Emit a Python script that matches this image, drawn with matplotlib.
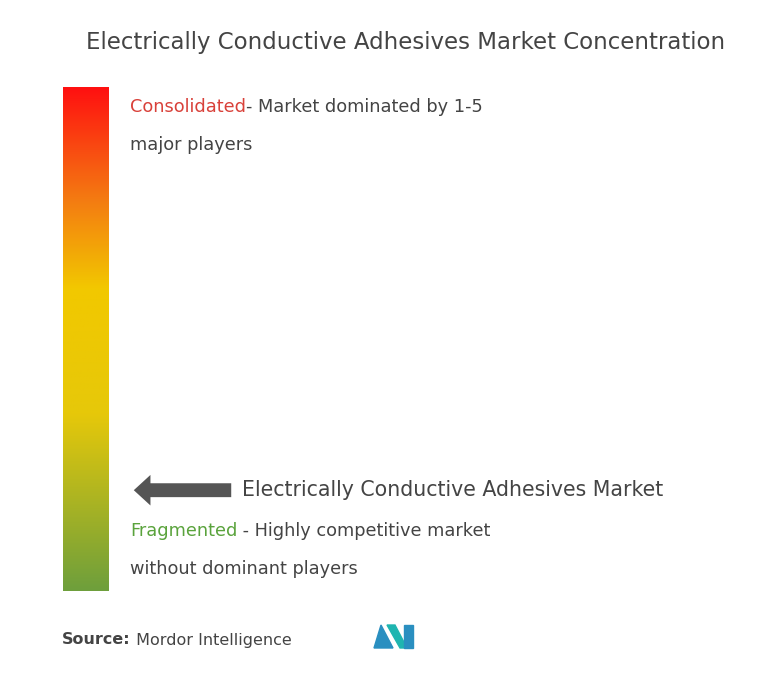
import matplotlib
matplotlib.use("Agg")
import matplotlib.pyplot as plt
import numpy as np
from matplotlib.colors import LinearSegmentedColormap

title = "Electrically Conductive Adhesives Market Concentration"
market_label = "Electrically Conductive Adhesives Market"
concentration_level = 0.20  # 0 = fragmented, 1 = consolidated
grad_stops = [0.0, 0.35, 0.6, 0.78, 1.0]
grad_colors = ["#6e9f3c", "#e6c80a", "#f2c800", "#f47a12", "#ff1010"]

W, H = 775, 690
fig = plt.figure(figsize=(W/100, H/100), dpi=100)
ax = fig.add_axes([0, 0, 1, 1])
ax.set_xlim(0, W); ax.set_ylim(H, 0); ax.axis("off")

cmap = LinearSegmentedColormap.from_list("c", list(zip(grad_stops, grad_colors)))
grad = np.linspace(1, 0, 256).reshape(-1, 1)
bx0, bx1, by0, by1 = 63, 109, 87, 591
ax.imshow(grad, cmap=cmap, extent=[bx0, bx1, by1, by0], aspect="auto", vmin=0, vmax=1)

font = "DejaVu Sans"
renderer = fig.canvas.get_renderer()

def pair(x, y, t1, c1, t2, c2, size, w1=None):
    a = ax.text(x, y, t1, color=c1, fontsize=size, va="center", family=font, fontweight=w1)
    bb = a.get_window_extent(renderer)
    ax.text(bb.x1, y, t2, color=c2, fontsize=size, va="center", family=font)

ax.text(W/2 + 18, 42, title, ha="center", va="center", fontsize=16.5, color="#444444", family=font)

pair(130, 107, "Consolidated", "#d9413a", "- Market dominated by 1-5", "#444444", 12.8)
ax.text(130, 145, "major players", color="#444444", fontsize=12.8, va="center", family=font)

ay = by1 - concentration_level * (by1 - by0)
ax.annotate("", xy=(131, ay), xytext=(234, ay),
            arrowprops=dict(arrowstyle="simple,head_width=2.2,head_length=1.2,tail_width=1.0",
                            color="#555555", lw=0))
ax.text(242, ay, market_label, color="#444444", fontsize=14.8, va="center", family=font)

pair(130, 531, "Fragmented", "#5aa33c", " - Highly competitive market", "#444444", 12.8)
ax.text(130, 569, "without dominant players", color="#444444", fontsize=12.8, va="center", family=font)

pair(62, 640, "Source:", "#444444", " Mordor Intelligence", "#444444", 11.5, w1="bold")

# logo
ax.fill([374, 381, 393, 386], [648, 625, 648, 648], color="#2a8fc0")
ax.fill([387, 395, 407, 400], [625, 625, 648, 648], color="#1fb5b0")
ax.fill([404, 413, 413, 404], [625, 625, 648, 648], color="#2a8fc0")

fig.savefig("out.png", dpi=100)
